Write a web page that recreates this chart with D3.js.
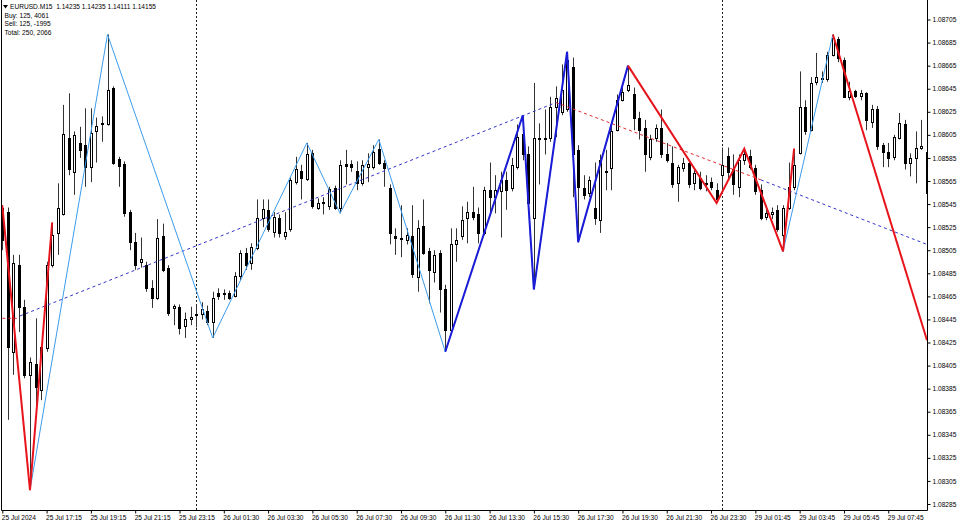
<!DOCTYPE html>
<html><head><meta charset="utf-8">
<script src="https://cdn.jsdelivr.net/npm/d3@7"></script>
<style>
body{margin:0;background:#fff;}
svg{display:block;}
text{font-family:"Liberation Sans",Arial,sans-serif;fill:#000;}
</style>
</head><body>
<svg id="c" width="960" height="525"></svg>
<script>
// ---------- DATA (EURUSD M15, one entry per bar) ----------
const opens = [1.08542,1.08538,1.08417,1.08492,1.08456,1.08397,1.08406,1.08384,1.08420,1.08492,
1.08520,1.08536,1.08602,1.08573,1.08598,1.08596,1.08577,1.08608,1.08614,1.08614,
1.08646,1.08584,1.08580,1.08538,1.08512,1.08495,1.08492,1.08472,1.08464,1.08517,
1.08490,1.08455,1.08456,1.08439,1.08445,1.08449,1.08450,1.08452,1.08443,1.08468,
1.08468,1.08468,1.08465,1.08483,1.08503,1.08494,1.08507,1.08533,1.08540,1.08521,
1.08533,1.08517,1.08523,1.08564,1.08574,1.08567,1.08589,1.08542,1.08547,1.08543,
1.08559,1.08542,1.08580,1.08580,1.08574,1.08563,1.08577,1.08577,1.08593,1.08581,
1.08559,1.08517,1.08516,1.08514,1.08517,1.08482,1.08526,1.08504,1.08486,1.08503,
1.08471,1.08436,1.08510,1.08517,1.08533,1.08538,1.08536,1.08520,1.08557,1.08551,
1.08556,1.08566,1.08559,1.08577,1.08606,1.08588,1.08533,1.08602,1.08601,1.08602,
1.08629,1.08625,1.08627,1.08664,1.08592,1.08559,1.08555,1.08542,1.08531,1.08574,
1.08576,1.08609,1.08635,1.08644,1.08640,1.08620,1.08611,1.08586,1.08602,1.08611,
1.08588,1.08581,1.08563,1.08576,1.08581,1.08563,1.08568,1.08563,1.08564,1.08557,
1.08570,1.08587,1.08575,1.08560,1.08583,1.08587,1.08576,1.08557,1.08534,1.08536,
1.08540,1.08518,1.08542,1.08560,1.08589,1.08629,1.08609,1.08651,1.08653,1.08653,
1.08674,1.08688,1.08670,1.08638,1.08643,1.08639,1.08641,1.08616,1.08627,1.08596,
1.08590,1.08586,1.08602,1.08614,1.08581,1.08585,1.08594,1.08590];
const highs = [1.08544,1.08542,1.08501,1.08501,1.08462,1.08412,1.08446,1.08423,1.08495,1.08529,
1.08563,1.08631,1.08641,1.08608,1.08612,1.08628,1.08628,1.08620,1.08621,1.08692,
1.08647,1.08586,1.08582,1.08540,1.08520,1.08516,1.08495,1.08479,1.08532,1.08528,
1.08492,1.08458,1.08458,1.08451,1.08456,1.08457,1.08460,1.08457,1.08469,1.08472,
1.08471,1.08470,1.08486,1.08505,1.08507,1.08511,1.08549,1.08549,1.08549,1.08538,
1.08536,1.08538,1.08568,1.08586,1.08579,1.08598,1.08592,1.08550,1.08551,1.08560,
1.08561,1.08583,1.08592,1.08583,1.08582,1.08583,1.08589,1.08596,1.08601,1.08583,
1.08562,1.08524,1.08544,1.08524,1.08544,1.08531,1.08549,1.08507,1.08505,1.08505,
1.08475,1.08524,1.08524,1.08543,1.08547,1.08560,1.08542,1.08560,1.08581,1.08570,
1.08573,1.08573,1.08585,1.08614,1.08622,1.08595,1.08650,1.08615,1.08627,1.08638,
1.08647,1.08666,1.08677,1.08672,1.08596,1.08570,1.08569,1.08581,1.08588,1.08592,
1.08614,1.08640,1.08648,1.08665,1.08646,1.08625,1.08618,1.08605,1.08614,1.08627,
1.08598,1.08595,1.08579,1.08585,1.08583,1.08575,1.08573,1.08570,1.08568,1.08563,
1.08594,1.08594,1.08588,1.08588,1.08593,1.08592,1.08579,1.08562,1.08544,1.08542,
1.08544,1.08544,1.08581,1.08593,1.08660,1.08635,1.08655,1.08676,1.08660,1.08677,
1.08692,1.08690,1.08672,1.08651,1.08644,1.08644,1.08642,1.08631,1.08630,1.08598,
1.08598,1.08605,1.08624,1.08618,1.08589,1.08608,1.08618,1.08601];
const lows = [1.08505,1.08358,1.08397,1.08434,1.08394,1.08297,1.08369,1.08375,1.08417,1.08490,
1.08501,1.08535,1.08570,1.08553,1.08585,1.08560,1.08564,1.08581,1.08599,1.08613,
1.08579,1.08560,1.08534,1.08505,1.08488,1.08490,1.08469,1.08455,1.08462,1.08486,
1.08448,1.08440,1.08432,1.08429,1.08440,1.08438,1.08445,1.08440,1.08429,1.08462,
1.08462,1.08462,1.08464,1.08479,1.08488,1.08488,1.08505,1.08525,1.08521,1.08516,
1.08516,1.08514,1.08521,1.08562,1.08549,1.08565,1.08541,1.08540,1.08536,1.08540,
1.08540,1.08537,1.08562,1.08573,1.08557,1.08561,1.08564,1.08575,1.08579,1.08560,
1.08510,1.08501,1.08499,1.08510,1.08481,1.08469,1.08501,1.08459,1.08477,1.08451,
1.08417,1.08432,1.08495,1.08514,1.08511,1.08531,1.08511,1.08518,1.08537,1.08537,
1.08516,1.08540,1.08556,1.08575,1.08583,1.08544,1.08471,1.08562,1.08588,1.08599,
1.08603,1.08622,1.08625,1.08551,1.08512,1.08549,1.08551,1.08527,1.08520,1.08557,
1.08557,1.08608,1.08634,1.08642,1.08609,1.08601,1.08573,1.08583,1.08599,1.08585,
1.08581,1.08559,1.08547,1.08573,1.08559,1.08557,1.08557,1.08556,1.08557,1.08546,
1.08557,1.08566,1.08553,1.08551,1.08579,1.08575,1.08553,1.08531,1.08531,1.08532,
1.08521,1.08504,1.08540,1.08557,1.08588,1.08605,1.08608,1.08648,1.08650,1.08651,
1.08673,1.08668,1.08637,1.08635,1.08637,1.08635,1.08609,1.08611,1.08592,1.08577,
1.08577,1.08583,1.08601,1.08575,1.08569,1.08563,1.08592,1.08549];
const closes = [1.08514,1.08421,1.08494,1.08456,1.08397,1.08408,1.08386,1.08421,1.08492,1.08518,
1.08542,1.08606,1.08575,1.08605,1.08592,1.08577,1.08607,1.08613,1.08615,1.08644,
1.08581,1.08578,1.08537,1.08512,1.08492,1.08497,1.08472,1.08464,1.08516,1.08488,
1.08451,1.08457,1.08438,1.08445,1.08447,1.08450,1.08454,1.08443,1.08464,1.08465,
1.08467,1.08464,1.08483,1.08503,1.08492,1.08508,1.08533,1.08541,1.08523,1.08534,
1.08520,1.08521,1.08566,1.08575,1.08568,1.08588,1.08543,1.08546,1.08546,1.08558,
1.08542,1.08579,1.08578,1.08577,1.08563,1.08579,1.08580,1.08590,1.08581,1.08576,
1.08520,1.08516,1.08515,1.08518,1.08484,1.08524,1.08503,1.08488,1.08501,1.08471,
1.08436,1.08510,1.08514,1.08531,1.08538,1.08534,1.08520,1.08557,1.08551,1.08557,
1.08566,1.08557,1.08579,1.08603,1.08588,1.08546,1.08602,1.08601,1.08602,1.08629,
1.08637,1.08644,1.08670,1.08588,1.08560,1.08553,1.08566,1.08533,1.08583,1.08573,
1.08608,1.08635,1.08642,1.08648,1.08620,1.08609,1.08588,1.08601,1.08611,1.08588,
1.08583,1.08562,1.08577,1.08581,1.08562,1.08572,1.08559,1.08562,1.08560,1.08549,
1.08579,1.08573,1.08562,1.08583,1.08588,1.08577,1.08556,1.08533,1.08537,1.08538,
1.08523,1.08542,1.08560,1.08579,1.08629,1.08608,1.08650,1.08655,1.08654,1.08674,
1.08689,1.08672,1.08638,1.08643,1.08639,1.08641,1.08618,1.08627,1.08595,1.08590,
1.08585,1.08603,1.08615,1.08581,1.08585,1.08594,1.08595,1.08555];

// ZigZag pivots: [bar index, price]
const zzLight = [[5,1.08297],[19,1.08692],[38,1.08429],[55,1.08598],[61,1.08537],[68,1.08601],[80,1.08417],[94,1.08622],[96,1.08471],[102,1.08677],[104,1.08512],[113,1.08665],[129,1.08546],[134,1.08593],[141,1.08504],[150,1.08692]];
const zzBlue = [[80,1.08417],[94,1.08622],[96,1.08471],[102,1.08677],[104,1.08512],[113,1.08665]];
const zzRedA = [[0,1.08544],[5,1.08297],[9,1.08529]];
const zzRedB = [[113,1.08665],[129,1.08546],[134,1.08593],[141,1.08504],[143,1.08593]];
const zzRedC = [[150,1.08692],[167,1.08427]];
// dashed trend lines
const trendRed0 = [[0,1.08446],[2.6,1.08446]];
const trendBlue1 = [[3.2,1.08448],[100,1.08633]];
const trendRed1 = [[100,1.08633],[137,1.08566]];
const trendBlue2 = [[137,1.08566],[167,1.08510]];

const dayBreaks = [35,130];
const priceTicks = [1.08705,1.08685,1.08665,1.08645,1.08625,1.08605,1.08585,1.08565,1.08545,1.08525,1.08505,1.08485,1.08465,1.08445,1.08425,1.08405,1.08385,1.08365,1.08345,1.08325,1.08305,1.08285];
const timeBars = [0,8,16,24,32,40,48,56,64,72,80,88,96,104,112,120,128,136,144,152,160];
const timeLabels = ["25 Jul 2024","25 Jul 17:15","25 Jul 19:15","25 Jul 21:15","25 Jul 23:15","26 Jul 01:30","26 Jul 03:30","26 Jul 05:30","26 Jul 07:30","26 Jul 09:30","26 Jul 11:30","26 Jul 13:30","26 Jul 15:30","26 Jul 17:30","26 Jul 19:30","26 Jul 21:30","26 Jul 23:30","29 Jul 01:45","29 Jul 03:45","29 Jul 05:45","29 Jul 07:45"];
const infoLines = ["EURUSD.M15  1.14235 1.14235 1.14111 1.14155","Buy: 125, 4061","Sell: 125, -1995","Total: 250, 2066"];

// ---------- DRAW ----------
const svg = d3.select('#c');
const plotL = 1.5, plotR = 927.5, plotB = 510.5;
const x = d3.scaleLinear().domain([0, opens.length - 1]).range([2.3, 927]);
const y = d3.scaleLinear().domain([1.08285, 1.08705]).range([504, 19.5]);

svg.append('defs').append('clipPath').attr('id','clip')
  .append('rect').attr('x', plotL+0.5).attr('y', 0).attr('width', plotR - plotL - 0.5).attr('height', plotB);

const plot = svg.append('g').attr('clip-path','url(#clip)');

// day separators
plot.selectAll('line.sep').data(dayBreaks).join('line')
  .attr('x1', d => Math.round(x(d)) + 0.5).attr('x2', d => Math.round(x(d)) + 0.5)
  .attr('y1', 0).attr('y2', plotB)
  .attr('stroke', '#222').attr('stroke-dasharray', '2,2');

// candles
const idx = d3.range(opens.length);
const cg = plot.append('g');
idx.forEach(i => {
  const cx = Math.round(x(i)) + 0.5;
  const o = opens[i], c = closes[i];
  cg.append('line').attr('x1', cx).attr('x2', cx)
    .attr('y1', y(highs[i])).attr('y2', y(lows[i]))
    .attr('stroke', '#333').attr('stroke-width', 1);
  const top = Math.round(y(Math.max(o, c))) + 0.5;
  const bot = Math.round(y(Math.min(o, c))) + 0.5;
  if (bot - top < 1) {
    cg.append('line').attr('x1', cx - 1.5).attr('x2', cx + 1.5)
      .attr('y1', top).attr('y2', top).attr('stroke', '#000');
  } else {
    cg.append('rect').attr('x', cx - 1).attr('y', top)
      .attr('width', 2).attr('height', bot - top)
      .attr('fill', c >= o ? '#fff' : '#000').attr('stroke', '#000').attr('stroke-width', 1);
  }
});

const line = d3.line().x(d => x(d[0])).y(d => y(d[1]));
function dashed(data, color) {
  plot.append('path').datum(data).attr('d', line).attr('fill', 'none')
    .attr('stroke', color).attr('stroke-width', 1).attr('stroke-dasharray', '3,3');
}
dashed(trendRed0, '#e0282e');
dashed(trendBlue1, '#3434cc');
dashed(trendRed1, '#e0282e');
dashed(trendBlue2, '#3434cc');

function solid(data, color, w) {
  plot.append('path').datum(data).attr('d', line).attr('fill', 'none')
    .attr('stroke', color).attr('stroke-width', w).attr('stroke-linejoin', 'miter');
}
solid(zzLight, '#3d9cec', 1);
solid(zzBlue, '#1b1bd6', 2);
solid(zzRedA, '#e8141c', 2);
solid(zzRedB, '#e8141c', 2);
solid(zzRedC, '#e8141c', 2);

// frame
svg.append('line').attr('x1', plotL).attr('x2', plotL).attr('y1', 0).attr('y2', plotB).attr('stroke', '#000');
svg.append('line').attr('x1', plotR).attr('x2', plotR).attr('y1', 0).attr('y2', plotB).attr('stroke', '#000');
svg.append('line').attr('x1', plotL).attr('x2', plotR).attr('y1', plotB).attr('y2', plotB).attr('stroke', '#000');

// price axis
const yAxis = svg.append('g').attr('transform', `translate(${plotR},0)`)
  .call(d3.axisRight(y).tickValues(priceTicks).tickFormat(d3.format('.5f')).tickSize(3).tickPadding(2));
yAxis.select('.domain').remove();
yAxis.selectAll('.tick line').attr('stroke', '#000');
yAxis.selectAll('.tick text').attr('font-size', '6.6px').attr('font-family', '"Liberation Sans",Arial,sans-serif').attr('fill', '#000');

// time axis
const xAxis = svg.append('g').attr('transform', `translate(0,${plotB})`)
  .call(d3.axisBottom(x).tickValues(timeBars).tickFormat((d, k) => timeLabels[k]).tickSize(3));
xAxis.select('.domain').remove();
xAxis.selectAll('.tick line').attr('stroke', '#000');
xAxis.selectAll('.tick text').attr('text-anchor', 'start').attr('x', -1).attr('y', 9).attr('dy', 0)
  .attr('font-size', '6.6px').attr('font-family', '"Liberation Sans",Arial,sans-serif').attr('fill', '#000');

// info text
svg.append('path').attr('d', 'M3,5 L8,5 L5.5,8.5 Z').attr('fill', '#000');
const infoY = [9, 17.7, 26.4, 35.1];
svg.selectAll('text.info').data(infoLines).join('text')
  .attr('class', 'info')
  .attr('x', (d, k) => k === 0 ? 10 : 4.5)
  .attr('y', (d, k) => infoY[k])
  .attr('font-size', '6.6px')
  .style('white-space', 'pre')
  .text(d => d);
</script>
</body></html>
